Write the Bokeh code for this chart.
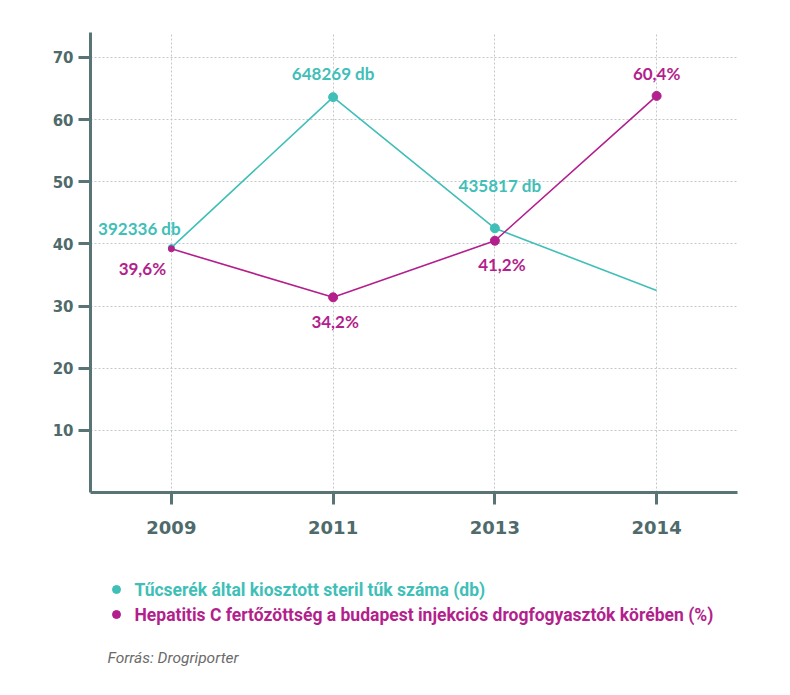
from bokeh.plotting import figure
from bokeh.layouts import column
from bokeh.models import Range1d, FixedTicker, Label
from bokeh.core.properties import value
from bokeh.embed import file_html
from bokeh.resources import INLINE

years = ["2009", "2011", "2013", "2014"]
needles = [39.4, 63.6, 42.5, 32.5]          # Tűcserék által kiosztott steril tűk száma (scaled)
needle_labels = ["392336 db", "648269 db", "435817 db", ""]
hepc = [39.2, 31.4, 40.5, 63.8]             # Hepatitis C fertőzöttség (%)
hepc_labels = ["39,6%", "34,2%", "41,2%", "60,4%"]
y_ticks = [10, 20, 30, 40, 50, 60, 70]
legend_texts = ["Tűcserék által kiosztott steril tűk száma (db)",
                "Hepatitis C fertőzöttség a budapest injekciós drogfogyasztók körében (%)"]
source_text = "Forrás: Drogriporter"

TEAL = "#3fbfb8"
MAGENTA = "#b31f8c"
AXIS = "#587474"
TICKTXT = "#4f6a6a"

xs = list(range(len(years)))

p = figure(frame_width=647, frame_height=460, min_border_left=90, min_border_top=32,
           min_border_right=53, min_border_bottom=60,
           x_range=Range1d(-0.5, 3.5), y_range=Range1d(0, 74),
           output_backend="svg", toolbar_location=None)
p.outline_line_color = None
p.background_fill_color = "white"
p.border_fill_color = "white"

# axes
p.xaxis.ticker = FixedTicker(ticks=xs)
p.xaxis.major_label_overrides = {i: y for i, y in enumerate(years)}
p.yaxis.ticker = FixedTicker(ticks=y_ticks)
for ax in (p.xaxis[0], p.yaxis[0]):
    ax.axis_line_color = AXIS
    ax.axis_line_width = 3
    ax.major_tick_line_color = AXIS
    ax.major_tick_line_width = 3
    ax.major_tick_out = 12
    ax.major_tick_in = 0
    ax.minor_tick_line_color = None
    ax.major_label_text_color = TICKTXT
    ax.major_label_text_font = "DejaVu Sans"
    ax.major_label_text_font_style = "bold"
p.xaxis.major_label_text_font_size = "18px"
p.xaxis.major_label_standoff = 16
p.yaxis.major_label_text_font_size = "15px"
p.yaxis.major_label_standoff = 5

# grid
p.xgrid.ticker = FixedTicker(ticks=xs)
p.ygrid.ticker = FixedTicker(ticks=y_ticks)
for g in (p.xgrid[0], p.ygrid[0]):
    g.grid_line_color = "#c3c9c9"
    g.grid_line_dash = "2 2"
    g.grid_line_width = 1

# series
p.line(xs, needles, line_color=TEAL, line_width=1.6)
p.line(xs, hepc, line_color=MAGENTA, line_width=1.6)
p.scatter(xs[1:3], needles[1:3], size=9, color=TEAL)
p.scatter(xs[:1], needles[:1], size=6, color=TEAL)
p.scatter(xs[1:], hepc[1:], size=9, color=MAGENTA)
p.scatter(xs[:1], hepc[:1], size=6, color=MAGENTA)

# data labels
needle_off = [(-32, 19), (0, 24), (5, 43), None]
hepc_off = [(-29, -20), (2, -24), (7, -24), (0, 22)]
for i in xs:
    if needle_labels[i]:
        dx, dy = needle_off[i]
        p.add_layout(Label(x=xs[i], y=needles[i], x_offset=dx, y_offset=dy, text=needle_labels[i],
                           text_color=TEAL, text_font="Lato", text_font_style="bold",
                           text_font_size="17px", text_align="center", text_baseline="middle"))
    dx, dy = hepc_off[i]
    p.add_layout(Label(x=xs[i], y=hepc[i], x_offset=dx, y_offset=dy, text=hepc_labels[i],
                       text_color=MAGENTA, text_font="Lato", text_font_style="bold",
                       text_font_size="17px", text_align="center", text_baseline="middle"))

# legend + source panel (page-pixel coordinates, y downward); the column aligns
# this frame with the chart frame above, which spans page x 90..737
p2 = figure(width=790, height=143, x_range=Range1d(90, 737), y_range=Range1d(143, 0),
            x_axis_type=None, y_axis_type=None,
            min_border=0, output_backend="svg", toolbar_location=None)
p2.grid.visible = False
p2.outline_line_color = None
p2.scatter([116, 116], [37, 62], size=8, color=[TEAL, MAGENTA])
p2.text([134, 134], [37, 62], text=legend_texts, text_color=[TEAL, MAGENTA],
        text_font=value("Roboto"), text_font_style="bold", text_font_size="17.5px",
        text_align="left", text_baseline="middle")
p2.text([107], [105], text=[source_text], text_color="#6b6b6b",
        text_font=value("Roboto"), text_font_style="italic", text_font_size="15.5px",
        text_align="left", text_baseline="middle")

open("out.html", "w").write(file_html(column(p, p2, spacing=0), INLINE))
